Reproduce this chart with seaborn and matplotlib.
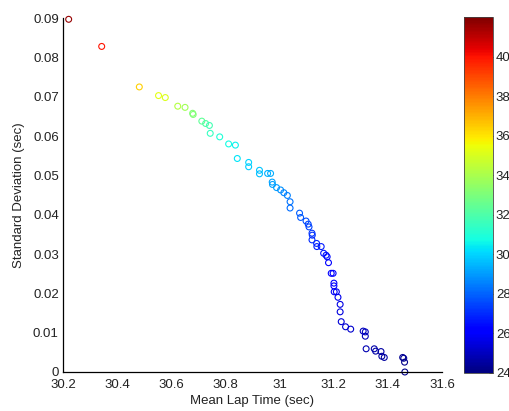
import matplotlib
matplotlib.use("Agg")
import matplotlib.pyplot as plt
import seaborn as sns
import numpy as np
import pandas as pd
from matplotlib.ticker import FuncFormatter
from matplotlib.cm import ScalarMappable
from matplotlib.colors import Normalize

mean_lap = [30.221, 30.343, 30.482, 30.553, 30.578, 30.624, 30.651, 30.679, 30.681, 30.713,
            30.727, 30.741, 30.744, 30.779, 30.812, 30.837, 30.844, 30.886, 30.886, 30.926,
            30.926, 30.956, 30.967, 30.973, 30.974, 30.989, 31.004, 31.016, 31.029, 31.039,
            31.039, 31.074, 31.078, 31.098, 31.106, 31.109, 31.120, 31.121, 31.120, 31.137,
            31.138, 31.154, 31.163, 31.172, 31.176, 31.181, 31.191, 31.198, 31.201, 31.201,
            31.202, 31.210, 31.216, 31.224, 31.224, 31.228, 31.244, 31.263, 31.309, 31.317,
            31.317, 31.320, 31.350, 31.355, 31.375, 31.378, 31.387, 31.455, 31.459, 31.462,
            31.463]
std_dev = [0.0897, 0.0828, 0.0725, 0.0703, 0.0698, 0.0676, 0.0673, 0.0658, 0.0655, 0.0638,
           0.0632, 0.0627, 0.0607, 0.0598, 0.0580, 0.0577, 0.0543, 0.0533, 0.0522, 0.0513,
           0.0504, 0.0505, 0.0505, 0.0483, 0.0477, 0.0469, 0.0463, 0.0456, 0.0449, 0.0433,
           0.0417, 0.0404, 0.0393, 0.0384, 0.0376, 0.0369, 0.0353, 0.0348, 0.0336, 0.0327,
           0.0319, 0.0319, 0.0302, 0.0297, 0.0293, 0.0278, 0.0251, 0.0251, 0.0226, 0.0219,
           0.0204, 0.0204, 0.0190, 0.0172, 0.0153, 0.0128, 0.0115, 0.0109, 0.0104, 0.0102,
           0.0091, 0.0059, 0.0059, 0.0053, 0.0052, 0.0040, 0.0037, 0.0037, 0.0035, 0.0025,
           0.0000]
color_val = [41.6, 40.0, 36.4, 35.3, 35.1, 34.2, 33.8, 33.2, 33.1, 32.4,
             32.1, 31.8, 31.5, 31.0, 30.7, 30.5, 30.3, 30.0, 29.9, 29.7,
             29.6, 29.4, 29.3, 29.2, 29.1, 29.0, 28.8, 28.6, 28.5, 28.3,
             28.2, 27.9, 27.8, 27.6, 27.5, 27.4, 27.2, 27.1, 27.0, 26.9,
             26.8, 26.7, 26.6, 26.5, 26.4, 26.3, 26.2, 26.1, 26.0, 26.0,
             25.9, 25.8, 25.7, 25.6, 25.5, 25.4, 25.3, 25.2, 25.0, 25.0,
             24.9, 24.8, 24.7, 24.7, 24.6, 24.5, 24.5, 24.3, 24.3, 24.2,
             24.2]
x_ticks = [30.2, 30.4, 30.6, 30.8, 31.0, 31.2, 31.4, 31.6]
y_ticks = [0, 0.01, 0.02, 0.03, 0.04, 0.05, 0.06, 0.07, 0.08, 0.09]
cbar_ticks = [24, 26, 28, 30, 32, 34, 36, 38, 40]
cmin, cmax = 24, 42

df = pd.DataFrame({"mean": mean_lap, "std": std_dev, "c": color_val})

sns.set_style("white")
plt.rcParams["font.family"] = ["Liberation Sans", "DejaVu Sans"]
plt.rcParams["font.size"] = 9

jet = matplotlib.colormaps["jet"]

fig = plt.figure(figsize=(5.10, 4.11), dpi=100)
ax = fig.add_axes([0.1235, 0.0949, 0.743, 0.861])
cax = fig.add_axes([0.910, 0.0925, 0.057, 0.866])

sns.scatterplot(data=df, x="mean", y="std", hue="c", palette=jet,
                hue_norm=Normalize(cmin, cmax), legend=False, ax=ax, s=18,
                marker="o", linewidth=0.8, clip_on=False)
coll = ax.collections[0]
fc = coll.get_facecolors()
coll.set_edgecolors(fc)
coll.set_facecolors("none")

ax.set_xlim(30.2, 31.6)
ax.set_ylim(0, 0.09)
ax.set_xticks(x_ticks)
ax.set_yticks(y_ticks)
fmt = FuncFormatter(lambda v, p: "%g" % round(v, 4))
ax.xaxis.set_major_formatter(fmt)
ax.yaxis.set_major_formatter(fmt)
ax.tick_params(direction="in", length=4, width=0.8, colors="black", labelsize=9.5,
               labelcolor="#222222")
ax.tick_params(axis="x", pad=5)
ax.tick_params(axis="y", pad=3)
for s in ["top", "right"]:
    ax.spines[s].set_visible(False)
for s in ["left", "bottom"]:
    ax.spines[s].set_color("black")
    ax.spines[s].set_linewidth(0.9)
ax.set_xlabel("Mean Lap Time (sec)", fontsize=9.5, labelpad=3, color="#222222")
ax.set_ylabel("Standard Deviation (sec)", fontsize=9.5, labelpad=6, color="#222222")
ax.patch.set_alpha(0)

sm = ScalarMappable(norm=Normalize(cmin, cmax), cmap=jet)
cb = fig.colorbar(sm, cax=cax, ticks=cbar_ticks)
cb.outline.set_linewidth(0.6)
cb.outline.set_edgecolor("#444444")
cax.tick_params(direction="in", length=3, width=0.6, labelsize=9.5, pad=2,
                labelcolor="#222222")

fig.savefig("out.png", dpi=100)
